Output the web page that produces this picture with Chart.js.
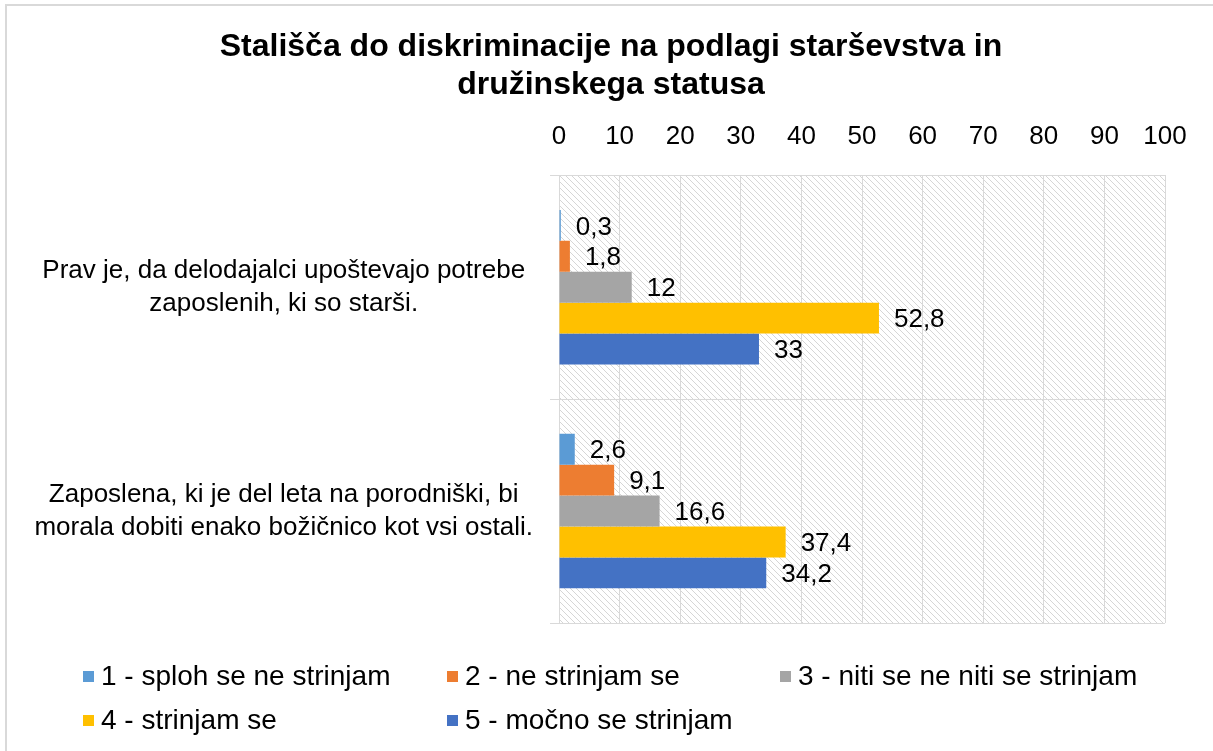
<!DOCTYPE html>
<html>
<head>
<meta charset="utf-8">
<script src="https://cdn.jsdelivr.net/npm/chart.js@4/dist/chart.umd.min.js"></script>
<style>
  body { margin: 0; background: #fff; }
  canvas { display: block; }
</style>
</head>
<body>
<canvas id="chart" width="1213" height="751"></canvas>
<script>
// data
const categories = [
    ["Prav je, da delodajalci upoštevajo potrebe", "zaposlenih, ki so starši."],
    ["Zaposlena, ki je del leta na porodniški, bi", "morala dobiti enako božičnico kot vsi ostali."]
];
const seriesNames = [
    "1 - sploh se ne strinjam",
    "2 - ne strinjam se",
    "3 - niti se ne niti se strinjam",
    "4 - strinjam se",
    "5 - močno se strinjam"
];
const s1 = [0.3, 2.6];
const s2 = [1.8, 9.1];
const s3 = [12, 16.6];
const s4 = [52.8, 37.4];
const s5 = [33, 34.2];
const xTicks = [0, 10, 20, 30, 40, 50, 60, 70, 80, 90, 100];

const colors = ["#5B9BD5", "#ED7D31", "#A5A5A5", "#FFC000", "#4472C4"];
const FONT = "'Liberation Sans', Arial, sans-serif";

function hatchPattern(ctx) {
    const s = 6;
    const c = document.createElement("canvas");
    c.width = s; c.height = s;
    const p = c.getContext("2d");
    p.strokeStyle = "#d6d6d6";
    p.lineWidth = 1;
    p.beginPath();
    p.moveTo(0, 0); p.lineTo(s, s);
    p.moveTo(-1, s - 1); p.lineTo(1, s + 1);
    p.moveTo(s - 1, -1); p.lineTo(s + 1, 1);
    p.stroke();
    return ctx.createPattern(c, "repeat");
}

// hatched plot background + outer frame
const backgroundPlugin = {
    id: "bg",
    afterLayout(chart) {
        // centre the title a bit further right, like the original
        if (chart.titleBlock) chart.titleBlock.left = 57;
    },
    beforeDraw(chart) {
        const { ctx, chartArea: a } = chart;
        ctx.save();
        ctx.fillStyle = "#d9d9d9";
        ctx.fillRect(5, 4, chart.width, 2);
        ctx.fillRect(5, 4, 2, chart.height);
        ctx.fillStyle = hatchPattern(ctx);
        ctx.fillRect(a.left, a.top, a.right - a.left, a.bottom - a.top);
        ctx.restore();
    }
};

// value labels at bar ends, decimal comma
const valueLabels = {
    id: "valueLabels",
    afterDatasetsDraw(chart) {
        const ctx = chart.ctx;
        ctx.save();
        ctx.font = "26px " + FONT;
        ctx.fillStyle = "#000";
        ctx.textBaseline = "middle";
        ctx.textAlign = "left";
        chart.data.datasets.forEach((ds, i) => {
            chart.getDatasetMeta(i).data.forEach((bar, j) => {
                const txt = String(ds.data[j]).replace(".", ",");
                ctx.fillText(txt, bar.x + 15, bar.y + 2);
            });
        });
        ctx.restore();
    }
};

// legend in three columns at the bottom
const gridLegend = {
    id: "gridLegend",
    afterDraw(chart) {
        const ctx = chart.ctx;
        const cols = [83, 447, 780];
        const rows = [676, 720];
        ctx.save();
        ctx.font = "28px " + FONT;
        ctx.textBaseline = "middle";
        chart.data.datasets.forEach((ds, i) => {
            const x = cols[i % 3];
            const y = rows[Math.floor(i / 3)];
            ctx.fillStyle = ds.backgroundColor;
            ctx.fillRect(x, y - 5, 11, 11);
            ctx.fillStyle = "#000";
            ctx.fillText(ds.label, x + 18, y + 1);
        });
        ctx.restore();
    }
};

const seriesData = [s1, s2, s3, s4, s5];

new Chart(document.getElementById("chart"), {
    type: "bar",
    data: {
        labels: categories,
        datasets: seriesData.map((d, i) => ({
            label: seriesNames[i],
            data: d,
            backgroundColor: colors[i],
            categoryPercentage: 0.69,
            barPercentage: 1
        }))
    },
    options: {
        indexAxis: "y",
        responsive: false,
        animation: false,
        layout: { padding: { left: 20, right: 48, top: 0, bottom: 128 } },
        plugins: {
            legend: { display: false },
            tooltip: { enabled: false },
            title: {
                display: true,
                text: ["Stališča do diskriminacije na podlagi starševstva in", "družinskega statusa"],
                color: "#000",
                font: { family: FONT, size: 32, weight: "bold", lineHeight: 1.16 },
                padding: { top: 29, bottom: 16 }
            }
        },
        scales: {
            x: {
                position: "top",
                min: 0,
                max: 100,
                afterBuildTicks(scale) {
                    scale.ticks = xTicks.map(v => ({ value: v }));
                },
                afterFit(scale) {
                    scale.height = 56;
                },
                grid: { color: "#d9d9d9", drawTicks: false },
                border: { display: false },
                ticks: {
                    color: "#000",
                    padding: 23,
                    font: { family: FONT, size: 26 }
                }
            },
            y: {
                afterFit(scale) {
                    scale.width = 539;
                },
                grid: { offset: true, color: "#d9d9d9", tickLength: 9 },
                border: { color: "#d9d9d9" },
                ticks: {
                    color: "#000",
                    padding: 17,
                    crossAlign: "center",
                    font: { family: FONT, size: 26, lineHeight: 1.27 }
                }
            }
        }
    },
    plugins: [backgroundPlugin, valueLabels, gridLegend]
});
</script>
</body>
</html>
